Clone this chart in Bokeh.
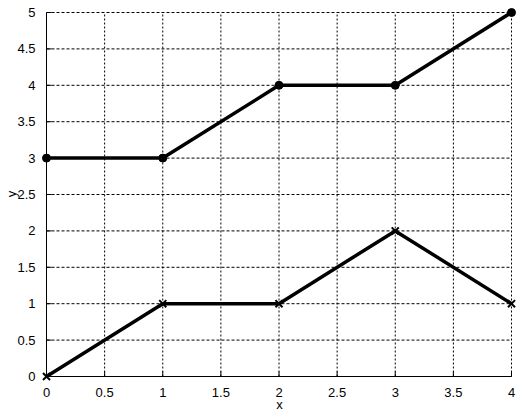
import math
from bokeh.plotting import figure
from bokeh.models import Range1d, FixedTicker
from bokeh.embed import file_html
from bokeh.resources import INLINE

x_vals = [0, 1, 2, 3, 4]
top_series = [3, 3, 4, 4, 5]
bottom_series = [0, 1, 1, 2, 1]
x_ticks = [0, 0.5, 1, 1.5, 2, 2.5, 3, 3.5, 4]
y_ticks = [0, 0.5, 1, 1.5, 2, 2.5, 3, 3.5, 4, 4.5, 5]

# layout: the data box spans x 0..4, y 0..5; small extra room around it so
# markers at the edges are not clipped (like the original)
X0, X1 = x_ticks[0], x_ticks[-1]
Y0, Y1 = y_ticks[0], y_ticks[-1]
PX_X = 465 / (X1 - X0)   # pixels per x unit
PX_Y = 364 / (Y1 - Y0)   # pixels per y unit
pad_l, pad_r, pad_t, pad_b = 5, 6, 6, 5

p = figure(width=519, height=414, output_backend="svg", toolbar_location=None,
           x_range=Range1d(X0 - pad_l / PX_X, X1 + pad_r / PX_X),
           y_range=Range1d(Y0 - pad_b / PX_Y, Y1 + pad_t / PX_Y),
           min_border_left=41, min_border_right=2, min_border_top=6, min_border_bottom=33)
p.outline_line_color = None
p.background_fill_color = "white"
p.border_fill_color = "white"
p.grid.visible = False

for ax, ticks in ((p.xaxis, x_ticks), (p.yaxis, y_ticks)):
    ax.ticker = FixedTicker(ticks=ticks)
    ax.major_tick_line_color = None
    ax.minor_tick_line_color = None
    ax.axis_line_color = None
    ax.major_label_text_font = "Liberation Sans"
    ax.major_label_text_font_size = "13px"
    ax.major_label_text_color = "black"
    ax.axis_label_text_font = "Liberation Sans"
    ax.axis_label_text_font_size = "13px"
    ax.axis_label_text_font_style = "normal"
    ax.axis_label_text_color = "black"

p.xaxis.axis_label = "x"
p.yaxis.axis_label = "y"
p.xaxis.major_label_standoff = 0
p.yaxis.major_label_standoff = 0
p.xaxis.axis_label_standoff = -3
p.yaxis.axis_label_standoff = -5

# dotted grid, spanning exactly the data box
nx, ny = len(x_ticks), len(y_ticks)
p.segment(x0=x_ticks, y0=[Y0] * nx, x1=x_ticks, y1=[Y1] * nx,
          line_color="black", line_width=1, line_dash="2 2")
p.segment(x0=[X0] * ny, y0=y_ticks, x1=[X1] * ny, y1=y_ticks,
          line_color="black", line_width=1, line_dash="3 2")

# solid axis lines and inward ticks
p.segment(x0=[X0, X0], y0=[Y0, Y0], x1=[X1, X0], y1=[Y0, Y1], line_color="black", line_width=1)
p.ray(x=x_ticks, y=[Y0] * nx, length=5, length_units="screen", angle=math.pi / 2,
      line_color="black", line_width=1)
p.ray(x=[X0] * ny, y=y_ticks, length=5, length_units="screen", angle=0,
      line_color="black", line_width=1)

# data
p.line(x_vals, top_series, line_color="black", line_width=3.5)
p.scatter(x_vals, top_series, marker="circle", size=8, fill_color="black", line_color="black")
p.line(x_vals, bottom_series, line_color="black", line_width=3.5)
p.scatter(x_vals, bottom_series, marker="x", size=10, line_color="black", line_width=2)

open("out.html", "w").write(file_html(p, INLINE))
